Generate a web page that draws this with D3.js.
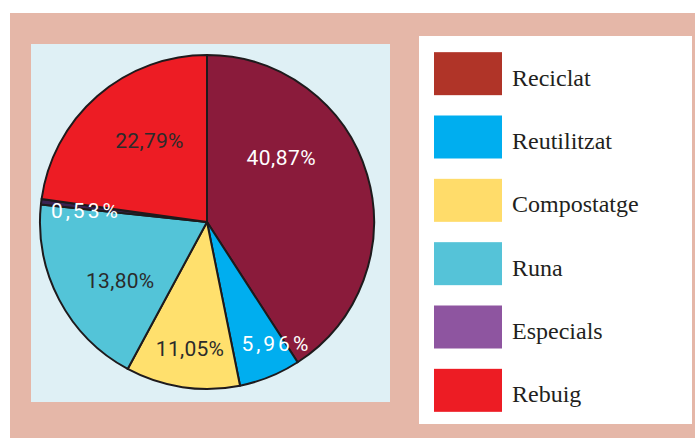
<!DOCTYPE html>
<html>
<head>
<meta charset="utf-8">
<script src="https://cdn.jsdelivr.net/npm/d3@7"></script>
<style>
  html, body { margin: 0; padding: 0; background: #ffffff; }
  svg { display: block; }
</style>
</head>
<body>
<svg id="chart" width="695" height="439"></svg>
<script>
// data
const categories = ["Reciclat", "Reutilitzat", "Compostatge", "Runa", "Especials", "Rebuig"];
const labels = ["40,87%", "5,96%", "11,05%", "13,80%", "0,53%", "22,79%"];
// slice sizes as drawn (Runa's wedge is drawn larger than its printed label)
const values = [40.87, 5.96, 11.05, 18.80, 0.53, 22.79];

// styles
const pieColors = ["#8a1b3b", "#00aeef", "#ffe06d", "#53c4d8", "#3a2352", "#ed1c24"];
const legendColors = ["#b03428", "#00aeef", "#ffdc6a", "#55c3d8", "#8e55a0", "#ed1c24"];
const labelColors = ["#ffffff", "#ffffff", "#2b2b2b", "#2b2b2b", "#ffffff", "#2b2b2b"];
const labelSpacing = [0.5, 3, 0.3, 0.3, 3, 0.3];
// nudge each label from its wedge centroid
const labelNudge = [[-36, -32], [26, 15], [0, 13], [15, 5], [-7, 2], [18, 5]];

const svg = d3.select("#chart");

// frame
svg.append("rect").attr("x", 10).attr("y", 13).attr("width", 685).attr("height", 425)
    .attr("fill", "#e5b7a8");
svg.append("rect").attr("x", 31).attr("y", 44).attr("width", 359).attr("height", 358)
    .attr("fill", "#dff0f5");
svg.append("rect").attr("x", 419).attr("y", 36).attr("width", 273).attr("height", 388)
    .attr("fill", "#ffffff");

// pie
const cx = 207, cy = 222, radius = 167;
const pie = d3.pie().sort(null).value(d => d);
const arcs = pie(values);
const arc = d3.arc().innerRadius(0).outerRadius(radius);
const labelArc = d3.arc().innerRadius(115).outerRadius(115);

const g = svg.append("g").attr("transform", `translate(${cx},${cy})`);

g.selectAll("path.slice")
    .data(arcs)
    .join("path")
    .attr("class", "slice")
    .attr("d", arc)
    .attr("fill", (d, i) => pieColors[i])
    .attr("stroke", "#1e1a1c")
    .attr("stroke-width", 2)
    .attr("stroke-linejoin", "round");

g.selectAll("text.pct")
    .data(arcs)
    .join("text")
    .attr("class", "pct")
    .attr("transform", (d, i) => {
        const [x, y] = labelArc.centroid(d);
        return `translate(${x + labelNudge[i][0]},${y + labelNudge[i][1]})`;
    })
    .attr("text-anchor", "middle")
    .attr("dy", "0.36em")
    .attr("font-family", "Roboto, 'Noto Sans', sans-serif")
    .attr("font-size", 21)
    .attr("letter-spacing", (d, i) => labelSpacing[i])
    .attr("fill", (d, i) => labelColors[i])
    .text((d, i) => labels[i]);

// legend
const y = d3.scaleBand().domain(categories).range([42, 422]);
const legend = svg.append("g");
const rows = legend.selectAll("g")
    .data(categories)
    .join("g")
    .attr("transform", d => `translate(0,${y(d) + y.bandwidth() / 2})`);

rows.append("rect")
    .attr("x", 434)
    .attr("y", -21.5)
    .attr("width", 68)
    .attr("height", 43)
    .attr("fill", (d, i) => legendColors[i]);

rows.append("text")
    .attr("x", 512)
    .attr("y", 12)
    .attr("font-family", "'Liberation Serif', 'Times New Roman', serif")
    .attr("font-size", 24)
    .attr("fill", "#231f20")
    .text(d => d);
</script>
</body>
</html>
